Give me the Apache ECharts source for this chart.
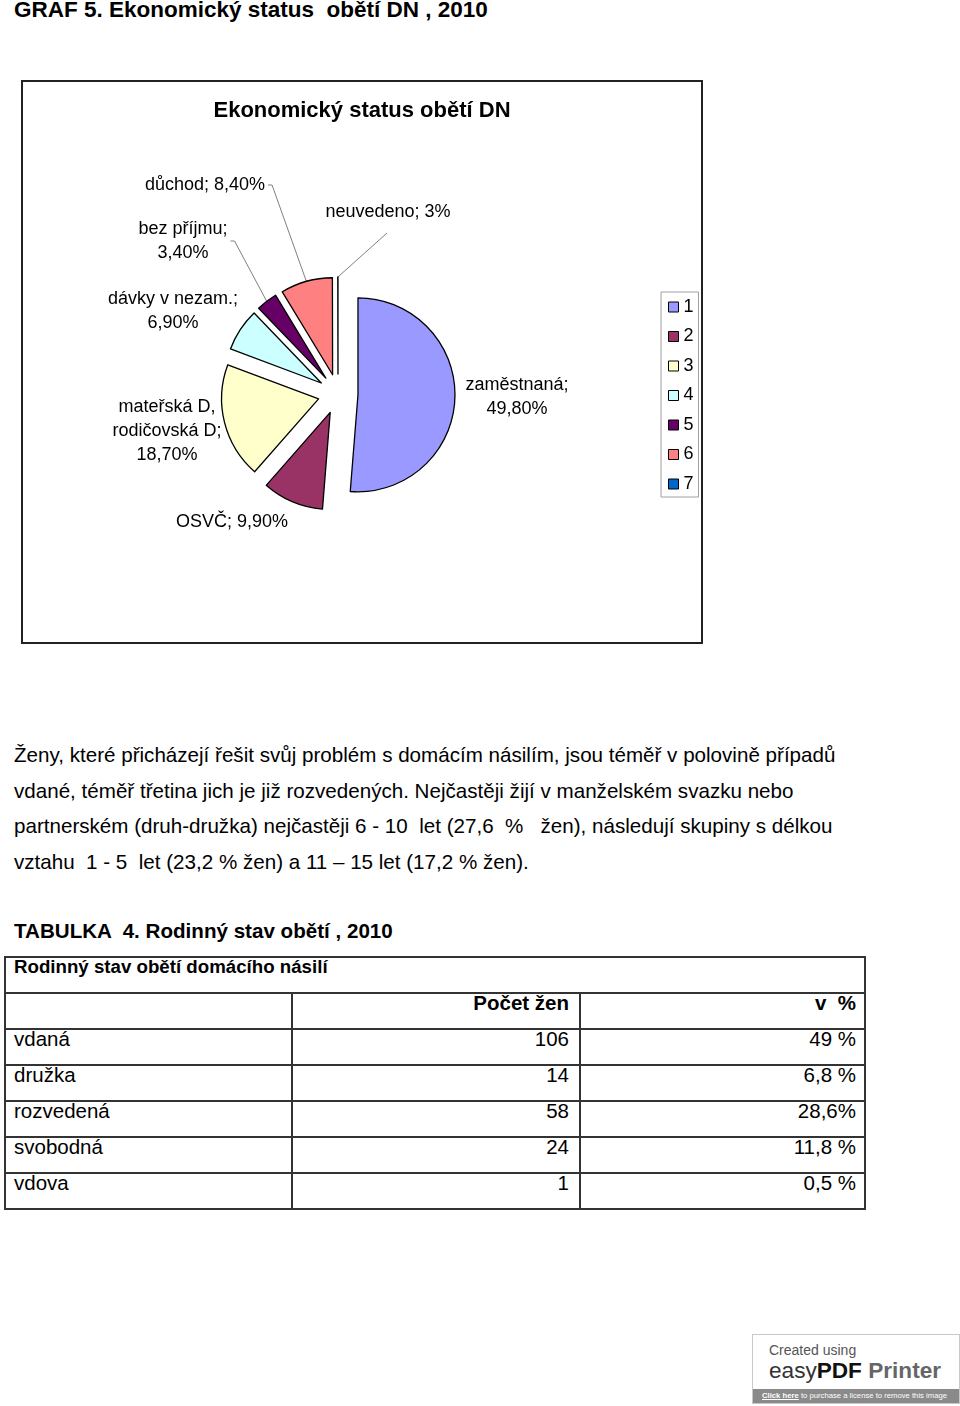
<!DOCTYPE html>
<html><head><meta charset="utf-8">
<script src="https://cdn.jsdelivr.net/npm/echarts@6.0.0/dist/echarts.min.js"></script>
<style>
html,body{margin:0;padding:0;background:#fff;}
body{width:960px;height:1406px;position:relative;overflow:hidden;font-family:"Liberation Sans",Arial,sans-serif;color:#000;}
.abs{position:absolute;white-space:pre;}
#grid{position:absolute;left:4px;top:956px;display:grid;grid-template-columns:287px 288px 285px;grid-template-rows:repeat(7,36px);border-left:2px solid #333;border-top:2px solid #333;}
#grid div{box-sizing:border-box;border-right:2px solid #333;border-bottom:2px solid #333;font-size:20.5px;line-height:18px;padding:0 10px 0 8px;white-space:pre;}
#grid .span{grid-column:1 / span 3;font-weight:bold;font-size:18.7px;}
#grid .r{text-align:right;}
#grid .b{font-weight:bold;}
#grid .c3{padding-right:8px;}
</style></head><body>
<div class="abs" id="pageTitle" style="left:14px;top:-1px;font-size:22.5px;line-height:22.5px;font-weight:bold;"></div>
<div id="chart" style="position:absolute;left:21px;top:80px;width:682px;height:564px;"></div>
<div id="para" class="abs" style="left:14px;top:737px;font-size:20.6px;line-height:35.5px;"></div>
<div class="abs" id="tableTitle" style="left:14px;top:921px;font-size:20.6px;line-height:20.6px;font-weight:bold;"></div>
<div id="grid"></div>
<div style="position:absolute;left:752px;top:1334px;width:206px;height:68px;border:1px solid #c8c8c8;background:#fff;overflow:hidden;">
  <div class="abs" style="left:16px;top:8px;font-size:14px;line-height:14px;color:#555;">Created using</div>
  <div class="abs" style="left:16px;top:25px;font-size:22.6px;line-height:22px;"><span style="color:#333">easy</span><b style="color:#111">PDF</b> <b style="color:#666">Printer</b></div>
  <div class="abs" style="left:0;top:54px;width:206px;height:14px;background:#8a8a8a;color:#fff;font-size:7.7px;line-height:14px;padding-left:9px;box-sizing:border-box;"><b><u>Click here</u></b> to purchase a license to remove this image</div>
</div>
<script>
// ---- texts ----
const pageTitle = 'GRAF 5. Ekonomický status  obětí DN , 2010';
const chartTitle = 'Ekonomický status obětí DN';
const paragraphLines = [
  'Ženy, které přicházejí řešit svůj problém s domácím násilím, jsou téměř v polovině případů',
  'vdané, téměř třetina jich je již rozvedených. Nejčastěji žijí v manželském svazku nebo',
  'partnerském (druh-družka) nejčastěji 6 - 10  let (27,6  %   žen), následují skupiny s délkou',
  'vztahu  1 - 5  let (23,2 % žen) a 11 – 15 let (17,2 % žen).'
];
const tableTitle = 'TABULKA  4. Rodinný stav obětí , 2010';
const tableHeader = 'Rodinný stav obětí domácího násilí';
const tableColumns = ['', 'Počet žen', 'v  %'];

// ---- pie data ----
const categories = ['1', '2', '3', '4', '5', '6', '7'];
const statusValues = [49.8, 9.9, 18.7, 6.9, 3.4, 8.4, 0.03]; // "neuvedeno" is a zero-width slice in the source
const labelTexts = [
  'zaměstnaná;\n49,80%',
  'OSVČ; 9,90%',
  'mateřská D,\nrodičovská D;\n18,70%',
  'dávky v nezam.;\n6,90%',
  'bez příjmu;\n3,40%',
  'důchod; 8,40%',
  'neuvedeno; 3%'
];
const sliceColors = ['#9999FF', '#993366', '#FFFFCC', '#CCFFFF', '#660066', '#FF8080', '#0066CC'];

// ---- table data ----
const maritalStatus = ['vdaná', 'družka', 'rozvedená', 'svobodná', 'vdova'];
const womenCount = [106, 14, 58, 24, 1];
const womenShare = ['49 %', '6,8 %', '28,6%', '11,8 %', '0,5 %'];

// ---- layout (styles only) ----
const PIE_CX = 317, PIE_CY = 314, PIE_R = 97, EXPLODE = 20;
const LABEL_POS = [[179, 3], [-106, 128], [-171, 37], [-165, -83], [-155, -153], [-133, -209], [50, -182]];
const LEADER = [null, null, null, null, 'right', 'right', 'below'];

document.getElementById('pageTitle').textContent = pageTitle;
document.getElementById('para').textContent = paragraphLines.join('\n');
document.getElementById('tableTitle').textContent = tableTitle;

const grid = document.getElementById('grid');
function cell(txt, cls) { const d = document.createElement('div'); d.textContent = txt; if (cls) d.className = cls; grid.appendChild(d); }
cell(tableHeader, 'span');
tableColumns.forEach((c, i) => cell(c, i === 0 ? 'b' : (i === 2 ? 'r b c3' : 'r b')));
maritalStatus.forEach((s, i) => { cell(s); cell(String(womenCount[i]), 'r'); cell(womenShare[i], 'r c3'); });

const chart = echarts.init(document.getElementById('chart'), null, {renderer: 'canvas'});
const FONT = '"Liberation Sans", Arial, sans-serif';
chart.setOption({
  animation: false,
  backgroundColor: '#fff',
  title: {
    text: chartTitle, left: 'center', top: 20, padding: 0,
    textStyle: {fontFamily: FONT, fontSize: 22, fontWeight: 'bold', color: '#000', lineHeight: 22}
  },
  graphic: [{
    type: 'rect', shape: {x: 1, y: 1, width: 680, height: 562},
    style: {fill: 'none', stroke: '#222', lineWidth: 2}, silent: true
  }],
  legend: {
    orient: 'vertical', left: 640, top: 212,
    data: categories, selectedMode: false, icon: 'rect',
    itemWidth: 10, itemHeight: 10, itemGap: 11.5,
    padding: [6, 5, 4, 7],
    borderColor: '#a0a0a0', borderWidth: 1,
    textStyle: {fontFamily: FONT, fontSize: 18, lineHeight: 18, color: '#000'},
    itemStyle: {borderColor: '#000', borderWidth: 1}
  },
  series: [{
    // exploded slices
    type: 'pie', name: 'slices',
    center: [PIE_CX, PIE_CY], radius: PIE_R,
    startAngle: 90, clockwise: true,
    selectedMode: 'multiple', selectedOffset: EXPLODE,
    minAngle: 0,
    itemStyle: {borderColor: '#000', borderWidth: 1.3},
    select: {itemStyle: {borderColor: '#000', borderWidth: 1.3}},
    emphasis: {disabled: true},
    label: {show: false}, labelLine: {show: false},
    data: categories.map((c, i) => ({
      name: c, value: statusValues[i], selected: true,
      itemStyle: {color: sliceColors[i]}
    }))
  }, {
    // data labels (same data, invisible sectors)
    type: 'pie', name: 'labels', silent: true,
    center: [PIE_CX, PIE_CY], radius: PIE_R,
    startAngle: 90, clockwise: true,
    selectedMode: false, avoidLabelOverlap: false, minAngle: 0,
    itemStyle: {color: 'rgba(0,0,0,0)', borderWidth: 0},
    emphasis: {disabled: true},
    label: {
      show: true, position: 'outside',
      formatter: p => labelTexts[p.dataIndex],
      fontFamily: FONT, fontSize: 18, lineHeight: 24, color: '#000'
    },
    labelLine: {show: true, length: 10, length2: 5, lineStyle: {color: '#808080', width: 1}},
    labelLayout: function (p) {
      const i = p.dataIndex;
      const o = LABEL_POS[i];
      const x = PIE_CX + o[0], y = PIE_CY + o[1];
      const w = p.labelRect.width;
      const res = {x: x, y: y, align: 'center', verticalAlign: 'middle'};
      const pts = p.labelLinePoints;
      if (pts && LEADER[i]) {
        const vx = pts[0][0] - PIE_CX, vy = pts[0][1] - PIE_CY;
        const len = Math.sqrt(vx * vx + vy * vy) || 1;
        const s = [pts[0][0] + EXPLODE * vx / len, pts[0][1] + EXPLODE * vy / len];
        let m, e;
        if (LEADER[i] === 'right') { e = [x + w / 2 + 3, y]; m = [x + w / 2 + 7, y]; }
        else { e = [x - 1, y + 21]; m = [x - 1, y + 21]; }
        res.labelLinePoints = [s, m, e];
      }
      return res;
    },
    data: categories.map((c, i) => ({
      name: c, value: statusValues[i],
      labelLine: {show: LEADER[i] != null}
    }))
  }]
});
</script>
</body></html>
